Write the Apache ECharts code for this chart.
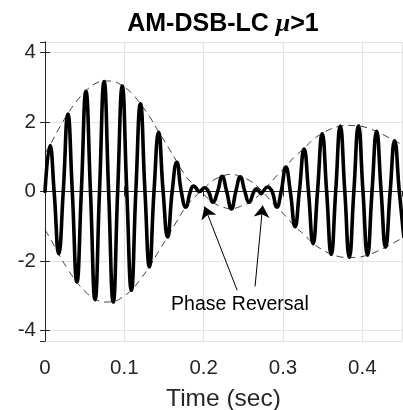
<!DOCTYPE html>
<html>
<head>
<meta charset="utf-8">
<script src="https://cdn.jsdelivr.net/npm/echarts@6/dist/echarts.min.js"></script>
<style>
html,body{margin:0;padding:0;background:#fff;}
#chart{width:403px;height:410px;}
</style>
</head>
<body>
<div id="chart"></div>
<script>
// Modulated signal: carrier peaks and zero crossings
const sigT = [0,0.0063,0.0115,0.0173,0.023,0.0288,0.0344,0.0402,0.0458,0.0516,
  0.0573,0.0631,0.0687,0.0745,0.0802,0.086,0.0916,0.0974,0.1031,0.1089,
  0.1145,0.1203,0.126,0.1317,0.1374,0.1432,0.1489,0.1546,0.1603,0.1661,
  0.1718,0.1775,0.1832,0.1872,0.195,0.201,0.2061,0.2116,0.2176,0.2233,
  0.229,0.235,0.2405,0.2462,0.2519,0.2572,0.2634,0.2665,0.27,0.2725,
  0.2748,0.2805,0.2863,0.2922,0.2977,0.3036,0.3092,0.3152,0.3206,0.3266,
  0.3321,0.3379,0.3435,0.3494,0.355,0.3608,0.3664,0.3722,0.3779,0.3836,
  0.3893,0.3951,0.4008,0.4065,0.4122,0.418,0.4237,0.4293,0.4351,0.4407,
  0.4466,0.4522];
const sigV = [0,1.32,0,-1.79,0,2.23,0,-2.60,0,2.88,
  0,-3.11,0,3.16,0,-3.18,0,3.03,0,-2.84,
  0,2.52,0,-2.17,0,1.70,0,-1.31,0,0.84,
  0,-0.45,0,0.16,0,0.11,0,-0.31,0,0.44,
  0,-0.50,0,0.42,0,-0.31,0,0.08,0,-0.06,
  0,0.13,0,-0.45,0,0.70,0,-1.01,0,1.22,
  0,-1.50,0,1.66,0,-1.81,0,1.88,0,-1.89,
  0,1.89,0,-1.83,0,1.73,0,-1.60,0,1.46,
  0,-1.30];

// Envelope (dashed)
const envT = [0,0.0063,0.0173,0.0288,0.0402,0.0516,0.0631,0.0745,0.086,0.0974,
  0.1089,0.1203,0.1317,0.1432,0.1546,0.1661,0.1775,0.189,0.196,0.2004,
  0.2119,0.2233,0.2347,0.2462,0.2576,0.2691,0.274,0.2805,0.292,0.3034,
  0.3149,0.3263,0.3377,0.3492,0.3606,0.3721,0.3835,0.395,0.4064,0.4178,
  0.4293,0.4407,0.45];
const envUpV = [1.1,1.34,1.8,2.24,2.61,2.9,3.1,3.18,3.17,3.04,
  2.84,2.52,2.16,1.72,1.3,0.86,0.44,0.15,0,-0.09,
  -0.32,-0.44,-0.5,-0.43,-0.32,-0.12,0,0.16,0.45,0.71,
  1.01,1.23,1.49,1.67,1.8,1.88,1.9,1.89,1.83,1.73,
  1.6,1.46,1.35];
const envLowV = [-1.1,-1.34,-1.8,-2.24,-2.61,-2.9,-3.1,-3.18,-3.17,-3.04,
  -2.84,-2.52,-2.16,-1.72,-1.3,-0.86,-0.44,-0.15,0,0.09,
  0.32,0.44,0.5,0.43,0.32,0.12,0,-0.16,-0.45,-0.71,
  -1.01,-1.23,-1.49,-1.67,-1.8,-1.88,-1.9,-1.89,-1.83,-1.73,
  -1.6,-1.46,-1.35];

// Annotation
const noteText = 'Phase Reversal';
const noteAt = [0.2457, -3.24];
const arrowTails = [[0.2422, -2.84], [0.2648, -2.73]];
const arrowTips = [[0.2011, -0.43], [0.2744, -0.40]];

const xTickLabels = ['0', '0.1', '0.2', '0.3', '0.4'];

const FONT = 'Liberation Sans, Arial, sans-serif';
const AX = '#262626';

const zip = (a, b) => a.map((v, i) => [v, b[i]]);

const chart = echarts.init(document.getElementById('chart'), null, {renderer: 'canvas'});
chart.setOption({
  animation: false,
  backgroundColor: '#fff',
  title: {
    text: '{a|AM-DSB-LC }{b|μ}{a|>1}',
    left: 218, top: 6, textAlign: 'center',
    textStyle: {
      rich: {
        a: {fontSize: 25, fontWeight: 'bold', color: '#000', fontFamily: FONT},
        b: {fontSize: 26, fontStyle: 'italic', color: '#000', fontFamily: 'Liberation Serif, serif'}
      }
    }
  },
  grid: {left: 45, right: 1, top: 42, bottom: 69, outerBoundsMode: 'none', containLabel: false},
  xAxis: [{
    type: 'value', min: 0, max: 0.45, interval: 0.1, position: 'bottom',
    axisLine: {show: true, lineStyle: {color: AX, width: 1}},
    axisTick: {show: true, inside: true, length: 5, lineStyle: {color: AX}},
    axisLabel: {fontSize: 20.5, color: AX, margin: 17, fontFamily: FONT, showMaxLabel: false,
      formatter: (v) => { const i = Math.round(v * 10); return i >= 0 && i < xTickLabels.length ? xTickLabels[i] : ''; }},
    splitLine: {show: true, lineStyle: {color: '#e3e3e3', width: 1}},
    name: 'Time (sec)', nameLocation: 'middle', nameGap: 46,
    nameTextStyle: {fontSize: 24.5, color: AX, fontFamily: FONT}
  }, {
    type: 'value', min: 0, max: 0.45, interval: 0.1, position: 'top',
    axisLine: {show: true, lineStyle: {color: AX, width: 1}},
    axisTick: {show: true, inside: true, length: 5, lineStyle: {color: AX}},
    axisLabel: {show: false}, splitLine: {show: false}
  }],
  yAxis: [{
    type: 'value', min: -4.3, max: 4.3, splitNumber: 4, position: 'left',
    axisLine: {show: true, lineStyle: {color: AX, width: 1}},
    axisTick: {show: true, inside: true, length: 5, lineStyle: {color: AX}},
    axisLabel: {fontSize: 20.5, color: AX, margin: 9, fontFamily: FONT, showMinLabel: false, showMaxLabel: false},
    splitLine: {show: true, lineStyle: {color: '#e3e3e3', width: 1}}
  }, {
    type: 'value', min: -4.3, max: 4.3, splitNumber: 4, position: 'right',
    axisLine: {show: true, lineStyle: {color: AX, width: 1}},
    axisTick: {show: true, inside: true, length: 5, lineStyle: {color: AX}},
    axisLabel: {show: false}, splitLine: {show: false}
  }],
  series: [{
    type: 'line', data: zip(envT, envUpV), smooth: 0.4, symbol: 'none',
    lineStyle: {color: '#111', width: 0.8, type: [7, 5]}, z: 3
  }, {
    type: 'line', data: zip(envT, envLowV), smooth: 0.4, symbol: 'none',
    lineStyle: {color: '#111', width: 0.8, type: [7, 5]}, z: 3
  }, {
    type: 'line', data: zip(sigT, sigV), smooth: 0.5, symbol: 'none',
    lineStyle: {color: '#000', width: 3.6, join: 'round', cap: 'round'}, z: 2,
    markLine: {
      silent: true, symbol: ['none', 'arrow'], symbolSize: 12, precision: 4,
      lineStyle: {color: '#000', width: 1, type: 'solid'},
      label: {show: false},
      data: arrowTails.map((p, i) => [{coord: p}, {coord: arrowTips[i]}])
    },
    markPoint: {
      silent: true, symbol: 'rect', symbolSize: 1,
      itemStyle: {color: 'rgba(0,0,0,0)'},
      label: {show: true, position: 'inside', formatter: noteText, fontSize: 19.5, color: '#000', fontFamily: FONT},
      data: [{coord: noteAt}]
    }
  }]
});
</script>
</body>
</html>
